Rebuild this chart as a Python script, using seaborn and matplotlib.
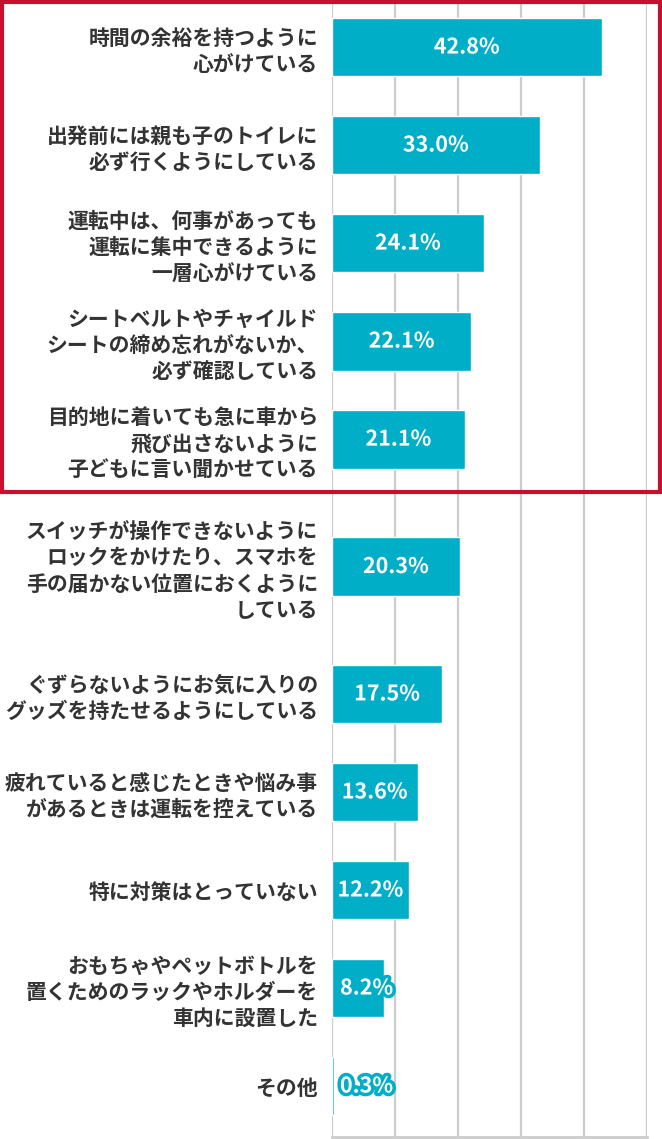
import numpy as np
import pandas as pd
import seaborn as sns
import matplotlib.pyplot as plt
import matplotlib.patheffects as pe
from matplotlib.patches import Rectangle

labels = [
    "時間の余裕を持つように\n心がけている",
    "出発前には親も子のトイレに\n必ず行くようにしている",
    "運転中は、何事があっても\n運転に集中できるように\n一層心がけている",
    "シートベルトやチャイルド\nシートの締め忘れがないか、\n必ず確認している",
    "目的地に着いても急に車から\n飛び出さないように\n子どもに言い聞かせている",
    "スイッチが操作できないように\nロックをかけたり、スマホを\n手の届かない位置におくように\nしている",
    "ぐずらないようにお気に入りの\nグッズを持たせるようにしている",
    "疲れていると感じたときや悩み事\nがあるときは運転を控えている",
    "特に対策はとっていない",
    "おもちゃやペットボトルを\n置くためのラックやホルダーを\n車内に設置した",
    "その他",
]
values = [42.8, 33.0, 24.1, 22.1, 21.1, 20.3, 17.5, 13.6, 12.2, 8.2, 0.3]
# row slots (rows with 4-line labels get a bit more room)
slots = [0, 1, 2, 3, 4, 5.3, 6.6, 7.6, 8.6, 9.6, 10.6]

df = pd.DataFrame({"label": labels, "value": values, "slot": slots})

sns.set_style("white")
plt.rcParams['font.family'] = ['Noto Sans CJK JP', 'DejaVu Sans']

bar_color = "#00AEC7"
text_color = "#333333"

fig = plt.figure(figsize=(6.62, 11.39), dpi=100)
ax = fig.add_axes([332 / 662, 2 / 1139, 315 / 662, 1137 / 1139])

sns.barplot(data=df, x="value", y="slot", orient="h", native_scale=True,
            width=0.6, color=bar_color, saturation=1, ax=ax, zorder=3)

ax.set_xlim(0, 50)
ax.set_ylim(11.12, -0.48)
ax.set_xticks([0, 10, 20, 30, 40, 50])
ax.set_xticklabels([])
ax.xaxis.grid(True, color="#CCCCCC", linewidth=1.6, zorder=0)
ax.set_axisbelow(True)
ax.tick_params(axis="x", length=0)
ax.tick_params(axis="y", length=0, pad=10)
ax.set_yticks(slots)
ax.set_yticklabels(labels, fontsize=15, fontweight="bold", color=text_color,
                   linespacing=1.3)
ax.set_xlabel("")
ax.set_ylabel("")

for side in ["top", "right", "left"]:
    ax.spines[side].set_visible(False)
ax.spines["bottom"].set_color("#CCCCCC")
ax.spines["bottom"].set_linewidth(2)

for v, s in zip(values, slots):
    ax.text(max(v / 2, 5.5), s, f"{v:.1f}%", ha="center", va="center",
            color="white", fontsize=15.5, fontweight="bold", zorder=5,
            path_effects=[pe.withStroke(linewidth=5, foreground=bar_color)])

fig.patches.append(Rectangle((2 / 662, 1 - 492 / 1139), 658 / 662, 490 / 1139,
                             transform=fig.transFigure, fill=False,
                             edgecolor="#C8102E", linewidth=3, zorder=10))

fig.savefig("out.png", dpi=100)
